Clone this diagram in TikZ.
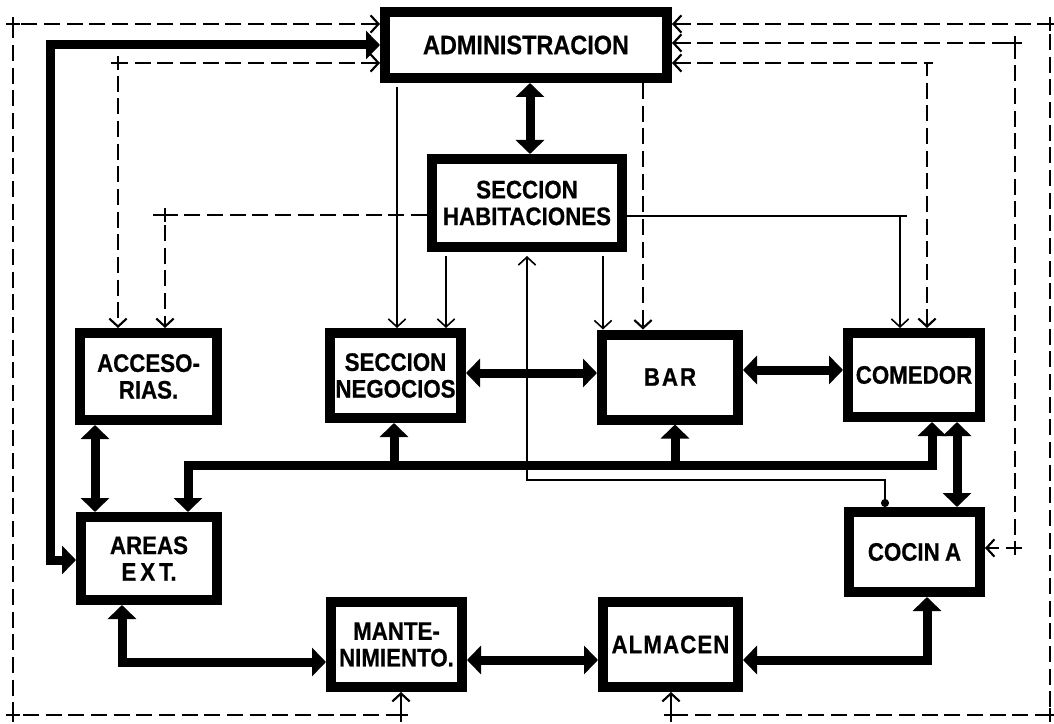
\documentclass[tikz,border=0pt]{standalone}
\usepackage{fontspec}
\setmainfont{Liberation Sans}[FakeStretch=0.88]
\newfontfamily\heavy{Liberation Sans}[FakeStretch=0.88,FakeBold=0.6,UprightFont=*-Bold]
\usetikzlibrary{arrows.meta}
\tikzset{
  Tk/.tip={Triangle[width=21pt,length=10.5pt]},
  Vb/.tip={Straight Barb[width=13pt,length=6pt]},
  Dt/.tip={Circle[length=6pt]},
  box/.style={draw, line width=7.5pt, fill=white, inner sep=0pt, outer sep=3.75pt,
    font=\fontsize{19}{20}\selectfont\heavy, align=center},
  thk/.style={line width=6.75pt, line join=miter},
  thn/.style={line width=1.2pt},
  dsh/.style={line width=1.6pt, dash pattern=on 12pt off 5pt},
  crs/.pic={\draw[line width=1.5pt] (-7,0) -- (7,0) (0,-7) -- (0,7);}
}
\begin{document}
\begin{tikzpicture}[x=0.75pt,y=-0.75pt]
\fill[white] (0,0) rectangle (1054,724);
\useasboundingbox (0,0) rectangle (1054,724);

% boxes
\node[box, font=\fontsize{20}{21}\selectfont\heavy, minimum width=211.5pt, minimum height=49.5pt] (adm) at (526,45) {ADMINISTRACION};
\node[box, minimum width=142.5pt, minimum height=66pt] (hab) at (527,203) {SECCION\\HABITACIONES};
\node[box, minimum width=102.75pt, minimum height=65.25pt] (acc) at (148.5,376.5) {ACCESO-\\RIAS.};
\node[box, minimum width=98.25pt, minimum height=63.75pt] (neg) at (395.5,375.5) {SECCION\\NEGOCIOS};
\node[box, minimum width=102pt, minimum height=63.75pt] (bar) at (670,377) {B\kern1.5pt A\kern1.5pt R};
\node[box, minimum width=99pt, minimum height=63pt] (com) at (914,375) {COMEDOR};
\node[box, minimum width=102pt, minimum height=62.25pt] (are) at (149,558.5) {AREAS\\E\kern3pt X\kern3pt T.};
\node[box, minimum width=98.25pt, minimum height=60pt] (coc) at (914.5,552) {COCIN\kern4pt A};
\node[box, minimum width=98.25pt, minimum height=63.75pt] (man) at (396.5,644.5) {MANTE-\\NIMIENTO.};
\node[box, minimum width=101.25pt, minimum height=63.75pt] (alm) at (670.5,644.5) {A\kern0.8pt L\kern0.8pt M\kern0.8pt A\kern0.8pt C\kern0.8pt E\kern0.8pt N};

% named bus points
\coordinate (busL) at (188,465);
\coordinate (busR) at (932,465);
\coordinate (busN) at (394,465);
\coordinate (busB) at (675,465);

% thick connectors
\draw[thk, Tk-Tk] (adm.west |- 0,45) -| (50,560) -- (are.west |- 0,560);
\draw[thk, Tk-Tk] (adm.south -| 530,0) -- (hab.north -| 530,0);
\draw[thk, Tk-Tk] (acc.south -| 95,0) -- (are.north -| 95,0);
\draw[thk, Tk-Tk] (neg.east |- 0,373) -- (bar.west |- 0,373);
\draw[thk, Tk-Tk] (bar.east |- 0,370) -- (com.west |- 0,370);
\draw[thk, Tk-Tk] (com.south -| busR) -- (busR) -- (busL) -- (are.north -| busL);
\draw[thk, -Tk] (busN) -- (neg.south -| busN);
\draw[thk, -Tk] (busB) -- (bar.south -| busB);
\draw[thk, Tk-Tk] (com.south -| 957,0) -- (coc.north -| 957,0);
\draw[thk, Tk-Tk] (are.south -| 122,0) |- (man.west |- 0,662);
\draw[thk, Tk-Tk] (man.east |- 0,660) -- (alm.west |- 0,660);
\draw[thk, Tk-Tk] (alm.east |- 0,660) -| (coc.south -| 927,0);

% thin solid connectors
\draw[thn, -Vb, shorten <=3pt] (adm.south -| 397,0) -- (neg.north -| 397,0);
\draw[thn, -Vb, shorten <=3pt] (hab.south -| 446,0) -- (neg.north -| 446,0);
\draw[thn, -Vb, shorten <=3pt] (hab.south -| 603,0) -- (bar.north -| 603,0);
\draw[thn] (hab.east |- 0,216) -- (907,216);
\draw[thn, -Vb] (900,216) -- (com.north -| 900,0);
\draw[thn, Vb-Dt, shorten <=3pt] (hab.south -| 527,0) -- (527,480) -- (885,480) -- (coc.north -| 885,0);

% dashed connectors
\draw[dsh, Vb-Vb] (adm.west |- 0,24) -- (13,24) -- (13,715) -- (401,715) -- (man.south -| 401,0);
\draw[dsh, Vb-Vb] (adm.west |- 0,63) -| (acc.north -| 118,0);
\draw[dsh, -Vb] (hab.west |- 0,215) -| (acc.north -| 165,0);
\draw[dsh] (165,215) -- (153,215);
\draw[dsh, -Vb] (adm.south -| 643,0) -- (bar.north -| 643,0);
\draw[dsh, Vb-Vb] (adm.east |- 0,63) -| (com.north -| 927,0);
\draw[dsh] (927,63) -- (933,63);
\draw[dsh, Vb-Vb] (adm.east |- 0,43) -| (1015,548) -- (coc.east |- 0,548);
\draw[dsh, Vb-Vb] (adm.east |- 0,24) -| (1050,715) -- (671,715) -- (alm.south -| 671,0);

% corner crosses
\foreach \p in {(13,24),(118,63),(165,215),(13,715),(401,715),(671,715),(1050,715),(1050,24),(1015,43),(1015,548)}
  \pic at \p {crs};
\end{tikzpicture}
\end{document}
